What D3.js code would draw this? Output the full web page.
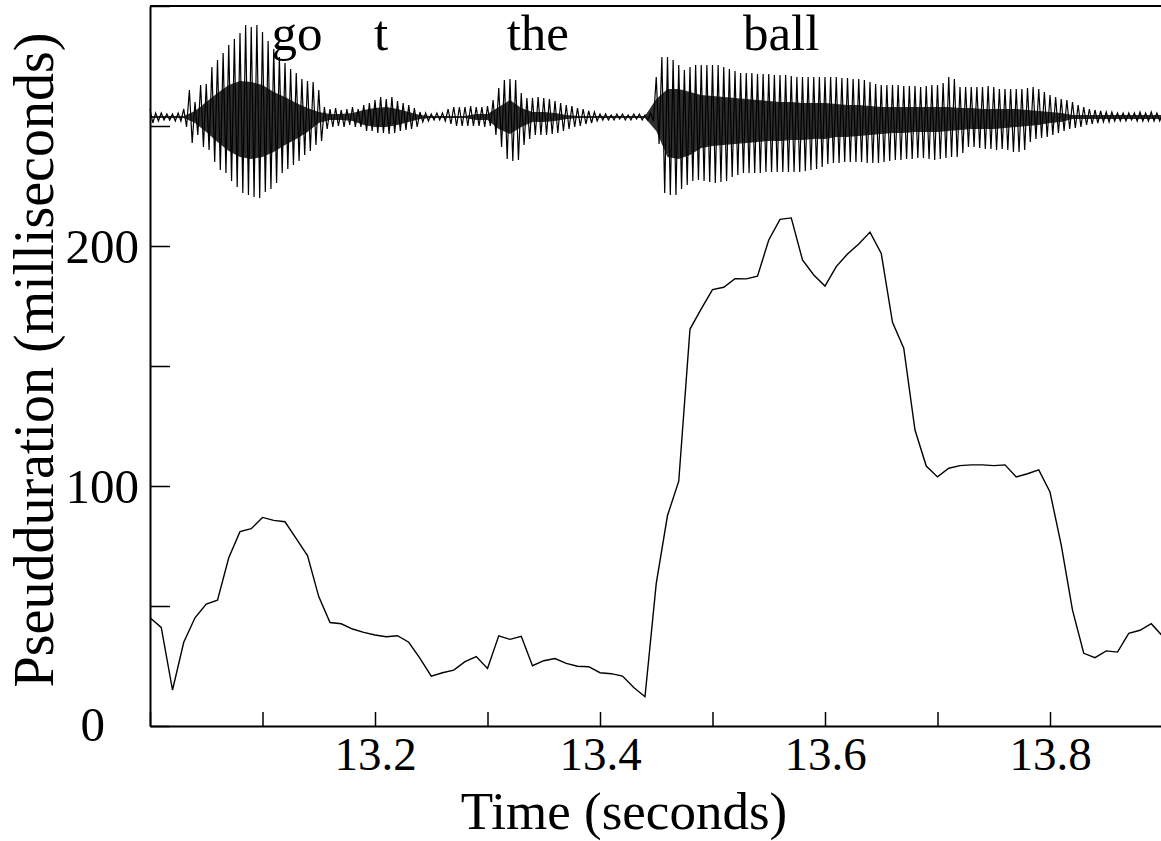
<!DOCTYPE html>
<html>
<head>
<meta charset="utf-8">
<script src="https://cdn.jsdelivr.net/npm/d3@7"></script>
<style>
  body { margin: 0; background: #fff; }
  svg { display: block; }
  text { font-family: "Liberation Serif", "Times New Roman", serif; fill: #000; }
</style>
</head>
<body>
<svg id="chart" width="1161" height="841"></svg>
<script>
`use strict`;

// pseudoduration, one frame every 10 ms from 13.00 s
const frameStart = 13.0;
const frameStep = 0.01;
const pseudo = [45.1, 41.1, 15.0, 34.9, 45.1, 50.8, 52.4, 70.1, 81.0, 82.2,
  86.9, 85.7, 85.1, 78.1, 71.0, 53.9, 43.1, 42.6, 40.4, 39.0,
  37.9, 37.2, 37.6, 34.9, 28.2, 20.8, 22.2, 23.3, 26.8, 28.9,
  24.0, 37.6, 36.1, 37.4, 25.1, 27.2, 28.1, 26.1, 24.9, 24.7,
  22.2, 21.8, 20.8, 16.0, 12.2, 59.4, 87.7, 102.0, 165.4, 173.8,
  181.8, 182.8, 186.4, 186.3, 187.4, 202.5, 211.1, 211.7, 194.2, 187.9,
  183.3, 191.4, 196.7, 200.8, 205.8, 196.9, 168.2, 157.4, 123.3, 108.3,
  103.8, 107.4, 108.5, 108.8, 108.8, 108.5, 108.8, 103.8, 105.1, 106.7,
  97.5, 75.4, 48.3, 30.3, 28.5, 31.3, 30.8, 38.6, 39.9, 42.6, 37.5];

// waveform peak envelope, every 5 ms (arbitrary amplitude units)
const waveStep = 0.005;
const waveUp = [8, 4, 4, 3, 3, 4, 8, 27, 15, 32,
  33, 50, 57, 64, 72, 78, 84, 92, 90, 92,
  85, 76, 68, 60, 54, 48, 44, 38, 36, 35,
  27, 10, 8, 9, 7, 8, 10, 8, 12, 14,
  17, 20, 18, 20, 16, 14, 12, 9, 5, 4,
  3, 4, 4, 8, 10, 10, 10, 11, 10, 10,
  11, 17, 29, 37, 38, 37, 24, 19, 19, 20,
  19, 18, 16, 14, 12, 11, 9, 8, 6, 5,
  3, 3, 2, 3, 3, 2, 3, 3, 2, 4,
  40, 60, 60, 57, 52, 47, 50, 52, 52, 52,
  52, 52, 50, 48, 46, 44, 44, 44, 43, 43,
  43, 42, 42, 42, 41, 40, 40, 40, 40, 40,
  40, 40, 40, 39, 39, 38, 38, 37, 35, 33,
  32, 32, 32, 32, 31, 31, 31, 30, 31, 32,
  32, 34, 40, 38, 30, 30, 30, 30, 30, 31,
  30, 28, 28, 28, 28, 28, 29, 30, 28, 25,
  22, 20, 18, 17, 15, 12, 10, 8, 7, 6,
  5, 5, 4, 4, 4, 4, 5, 4, 5, 4, 3];
const waveDown = [6, 4, 3, 3, 4, 4, 10, 26, 18, 30,
  33, 45, 53, 56, 64, 70, 76, 78, 80, 81,
  75, 72, 66, 56, 52, 48, 44, 38, 34, 28,
  24, 12, 10, 9, 10, 8, 10, 10, 14, 14,
  16, 16, 17, 16, 14, 13, 12, 10, 5, 4,
  3, 3, 4, 7, 9, 9, 9, 9, 9, 10,
  9, 18, 30, 42, 44, 43, 28, 22, 18, 18,
  18, 17, 16, 14, 12, 10, 9, 7, 6, 4,
  3, 3, 3, 2, 3, 3, 2, 3, 3, 4,
  27, 76, 78, 78, 72, 68, 64, 63, 64, 65,
  66, 65, 64, 60, 58, 56, 56, 56, 56, 55,
  55, 55, 55, 55, 55, 55, 54, 53, 52, 50,
  47, 46, 46, 45, 45, 45, 45, 46, 46, 46,
  45, 44, 43, 43, 42, 42, 41, 41, 42, 43,
  42, 41, 40, 40, 36, 30, 30, 31, 32, 32,
  33, 32, 33, 35, 35, 33, 25, 22, 21, 20,
  18, 16, 14, 12, 11, 10, 8, 7, 6, 5,
  5, 4, 4, 4, 3, 4, 4, 4, 4, 4, 3];

// dense inner band of the waveform, every 10 ms
const coreUp = [1, 1, 1, 1, 6, 15, 24, 32, 36, 35,
  32, 25, 20, 14, 9, 5, 3, 3, 4, 7,
  9, 10, 8, 5, 2, 1, 1, 1, 1, 3,
  3, 10, 17, 9, 5, 5, 4, 2, 1, 1,
  1, 1, 1, 1, 1, 18, 28, 28, 25, 22,
  21, 20, 19, 18, 17, 16, 15, 15, 14, 14,
  14, 13, 12, 12, 11, 10, 10, 10, 10, 10,
  10, 10, 9, 9, 8, 8, 8, 8, 7, 6,
  5, 4, 2, 2, 2, 2, 2, 2, 2, 2, 2];
const coreDown = [1, 1, 1, 1, 6, 15, 25, 34, 40, 42,
  40, 35, 28, 22, 15, 6, 3, 3, 4, 8,
  10, 10, 8, 5, 2, 1, 1, 1, 1, 3,
  3, 12, 17, 10, 5, 5, 4, 2, 1, 1,
  1, 1, 1, 1, 1, 14, 40, 42, 38, 31,
  29, 28, 27, 26, 25, 24, 24, 23, 23, 22,
  22, 20, 20, 19, 18, 17, 16, 16, 15, 15,
  15, 14, 13, 12, 12, 12, 11, 10, 9, 8,
  6, 5, 2, 2, 2, 2, 2, 2, 2, 2, 2];

const words = [`go`, `t`, `the`, `ball`];
const wordTimes = [13.108, 13.199, 13.317, 13.527];

const yTicks = [0, 50, 100, 150, 200, 250, 300];
const yLabels = [0, 100, 200];
const xTicks = [13.0, 13.1, 13.2, 13.3, 13.4, 13.5, 13.6, 13.7, 13.8, 13.9];
const xLabels = [13.2, 13.4, 13.6, 13.8];

(function () {

  const svg = d3.select(`#chart`);

  const x = d3.scaleLinear().domain([13.0, 13.9]).range([150, 1162.5]);
  const y = d3.scaleLinear().domain([0, 300]).range([726, 6]);
  const wave = d3.scaleLinear().domain([-100, 100]).range([217, 17]);

  const main = svg.append(`g`);

  // top frame line
  main.append(`line`)
    .attr(`x1`, 150).attr(`x2`, 1161)
    .attr(`y1`, y(300)).attr(`y2`, y(300))
    .attr(`stroke`, `#000`)
    .attr(`stroke-width`, 2);

  // waveform: inner band, then the peak strokes
  const frameTime = i => frameStart + i * frameStep;

  main.append(`path`)
    .datum(coreUp.map((v, i) => ({t: frameTime(i), up: v, down: coreDown[i]})))
    .attr(`d`, d3.area()
      .x(d => x(d.t))
      .y0(d => wave(-d.down))
      .y1(d => wave(d.up)))
    .attr(`fill`, `#000`)
    .attr(`fill-opacity`, 0.82);

  const pts = [];
  waveUp.forEach((v, i) => {
    const t = frameStart + i * waveStep;
    pts.push([t, v]);
    pts.push([t + waveStep / 2, -waveDown[i]]);
  });

  main.append(`path`)
    .datum(pts)
    .attr(`d`, d3.line().x(d => x(d[0])).y(d => wave(d[1])))
    .attr(`fill`, `none`)
    .attr(`stroke`, `#000`)
    .attr(`stroke-width`, 1.2)
    .attr(`stroke-linejoin`, `miter`);

  main.selectAll(`text.word`).data(words)
    .enter()
    .append(`text`)
    .attr(`class`, `word`)
    .attr(`x`, (d, i) => x(wordTimes[i]))
    .attr(`y`, 50)
    .style(`font-size`, `51px`)
    .text(d => d);

  // pseudoduration curve
  main.append(`path`)
    .datum(pseudo)
    .attr(`d`, d3.line()
      .x((d, i) => x(frameTime(i)))
      .y(d => y(d)))
    .attr(`fill`, `none`)
    .attr(`stroke`, `#000`)
    .attr(`stroke-width`, 1.4);

  const yAxis = main.append(`g`)
    .attr(`transform`, `translate(150,0)`)
    .call(d3.axisLeft(y)
      .tickValues(yTicks)
      .tickSizeInner(-20)
      .tickSizeOuter(0)
      .tickPadding(11)
      .tickFormat(d => yLabels.includes(d) ? d : ``));

  yAxis.select(`.domain`).attr(`stroke-width`, 2);
  yAxis.selectAll(`.tick line`).attr(`stroke-width`, 1.5);
  yAxis.selectAll(`.tick text`)
    .style(`font-size`, `49px`)
    .style(`font-family`, `"Liberation Serif", serif`)
    .attr(`dy`, `0.34em`);
  yAxis.selectAll(`.tick text`).filter(d => d === 0)
    .attr(`x`, -45)
    .attr(`dy`, `0.3em`);

  const xAxis = main.append(`g`)
    .attr(`transform`, `translate(0,726)`)
    .call(d3.axisBottom(x)
      .tickValues(xTicks)
      .tickSizeInner(-14)
      .tickSizeOuter(0)
      .tickPadding(11)
      .tickFormat(d => xLabels.some(v => Math.abs(v - d) < 1e-6) ? d3.format(`.1f`)(d) : ``));

  xAxis.select(`.domain`).attr(`stroke-width`, 2);
  xAxis.selectAll(`.tick line`).attr(`stroke-width`, 1.5);
  xAxis.selectAll(`.tick text`)
    .style(`font-size`, `47px`)
    .style(`font-family`, `"Liberation Serif", serif`);

  svg.append(`text`)
    .attr(`x`, 624)
    .attr(`y`, 829)
    .attr(`text-anchor`, `middle`)
    .style(`font-size`, `53px`)
    .text(`Time (seconds)`);

  svg.append(`text`)
    .attr(`transform`, `translate(53,360) rotate(-90)`)
    .attr(`text-anchor`, `middle`)
    .style(`font-size`, `56px`)
    .text(`Pseudduration (milliseconds)`);

})();
</script>
</body>
</html>
